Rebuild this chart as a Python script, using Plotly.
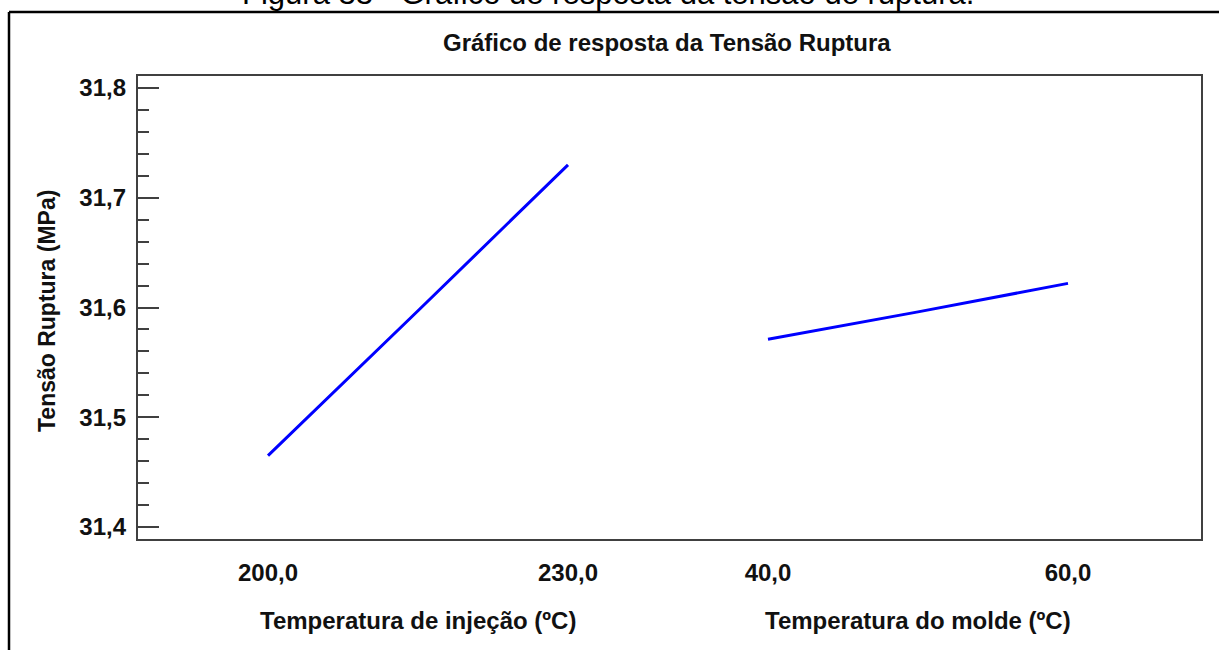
"""Gráfico de resposta da Tensão Ruptura — two-panel main-effects plot."""

import plotly.graph_objects as go

# Data.
temp_injecao = [200.0, 215.0, 230.0]
tensao_injecao = [31.465, 31.597, 31.730]

temp_molde = [40.0, 50.0, 60.0]
tensao_molde = [31.571, 31.596, 31.622]

y_ticks = [31.4, 31.5, 31.6, 31.7, 31.8]

_LINE_BLUE = "#0000ff"
_AXIS_GREY = "#404040"
_TEXT = "#111111"
_FONT = "Liberation Sans, Arial, sans-serif"

# Pixel layout of the 1219x650 page.
W, H = 1219, 650
L, R, T, B = 137, 1202, 75, 540


def px(x):
    return (x - L) / (R - L)


def py(y):
    return (B - y) / (B - T)


fig = go.Figure()

fig.add_trace(
    go.Scatter(
        x=temp_injecao, y=tensao_injecao, mode="lines",
        line={"color": _LINE_BLUE, "width": 3},
        xaxis="x", yaxis="y", showlegend=False,
    )
)
fig.add_trace(
    go.Scatter(
        x=temp_molde, y=tensao_molde, mode="lines",
        line={"color": _LINE_BLUE, "width": 3},
        xaxis="x2", yaxis="y", showlegend=False,
    )
)

y_range = [31.4 - 13 / 1100, 31.8 + 13 / 1100]
tick_font = {"family": _FONT, "size": 24, "color": _TEXT, "weight": "bold"}
minor = {"dtick": 0.02, "ticks": "inside", "ticklen": 11, "tickwidth": 2,
         "tickcolor": _AXIS_GREY, "showgrid": False}

xaxis_common = {
    "showgrid": False, "zeroline": False, "showline": False,
    "ticks": "", "tickformat": ".1f", "tickfont": tick_font,
    "ticklabelstandoff": 16,
}

fig.update_layout(
    width=W, height=H,
    separators=",.",
    margin={"l": L, "r": W - R, "t": T, "b": H - B},
    plot_bgcolor="white",
    paper_bgcolor="white",
    font={"family": _FONT},
    xaxis={**xaxis_common, "domain": [0, 0.5], "anchor": "y",
           "range": [200 - 131 / 10, 200 + 401.5 / 10],
           "tickvals": [200, 230]},
    xaxis2={**xaxis_common, "domain": [0.5, 1], "anchor": "y",
            "range": [40 - 98.5 / 15, 60 + 134 / 15],
            "tickvals": [40, 60]},
    yaxis={
        "range": y_range, "tickvals": y_ticks, "tickformat": ".1f",
        "ticks": "inside", "ticklen": 21, "tickwidth": 2,
        "tickcolor": _AXIS_GREY, "minor": minor,
        "showgrid": False, "zeroline": False, "showline": False,
        "tickfont": tick_font, "anchor": "free", "position": 0,
        "ticklabelstandoff": 11,
    },
    yaxis3={
        "range": y_range, "tickvals": y_ticks, "overlaying": "y",
        "side": "right", "anchor": "free", "position": 1,
        "ticks": "inside", "ticklen": 21, "tickwidth": 2,
        "tickcolor": _AXIS_GREY, "minor": minor,
        "showgrid": False, "zeroline": False, "showline": False,
        "showticklabels": False,
    },
)

# Plot frame.
fig.add_shape(type="rect", xref="paper", yref="paper", x0=0, x1=1, y0=0, y1=1,
              line={"color": _AXIS_GREY, "width": 2})

# Outer page frame (left and top edges visible).
fig.add_shape(type="line", xref="paper", yref="paper",
              x0=px(9), x1=px(9), y0=py(12), y1=py(700),
              line={"color": "black", "width": 2.5})
fig.add_shape(type="line", xref="paper", yref="paper",
              x0=px(9), x1=px(1260), y0=py(12), y1=py(12),
              line={"color": "black", "width": 2.5})

# Caption, cut at the top of the page (as in the source figure).
fig.add_annotation(
    text="Figura 33 - Gráfico de resposta da tensão de ruptura.",
    xref="paper", yref="paper", x=px(608), y=py(13),
    xanchor="center", yanchor="bottom", showarrow=False,
    font={"family": _FONT, "size": 31, "color": "black"},
)

fig.add_annotation(
    text="<b>Gráfico de resposta da Tensão Ruptura</b>",
    xref="paper", yref="paper", x=px(667), y=py(43),
    xanchor="center", yanchor="middle", showarrow=False,
    font={"family": _FONT, "size": 24, "color": _TEXT},
)

fig.add_annotation(
    text="<b>Tensão Ruptura (MPa)</b>",
    xref="paper", yref="paper", x=px(47), y=py(311),
    xanchor="center", yanchor="middle", textangle=-90, showarrow=False,
    font={"family": _FONT, "size": 23, "color": _TEXT},
)

fig.add_annotation(
    text="<b>Temperatura de injeção (ºC)</b>",
    xref="x", yref="paper", x=215, y=py(620),
    xanchor="center", yanchor="middle", showarrow=False,
    font={"family": _FONT, "size": 24, "color": _TEXT},
)
fig.add_annotation(
    text="<b>Temperatura do molde (ºC)</b>",
    xref="x2", yref="paper", x=50, y=py(620),
    xanchor="center", yanchor="middle", showarrow=False,
    font={"family": _FONT, "size": 24, "color": _TEXT},
)

fig.write_html(
    "out.html",
    config={"displayModeBar": False},
    post_script="document.body.style.margin = '0';",
)
